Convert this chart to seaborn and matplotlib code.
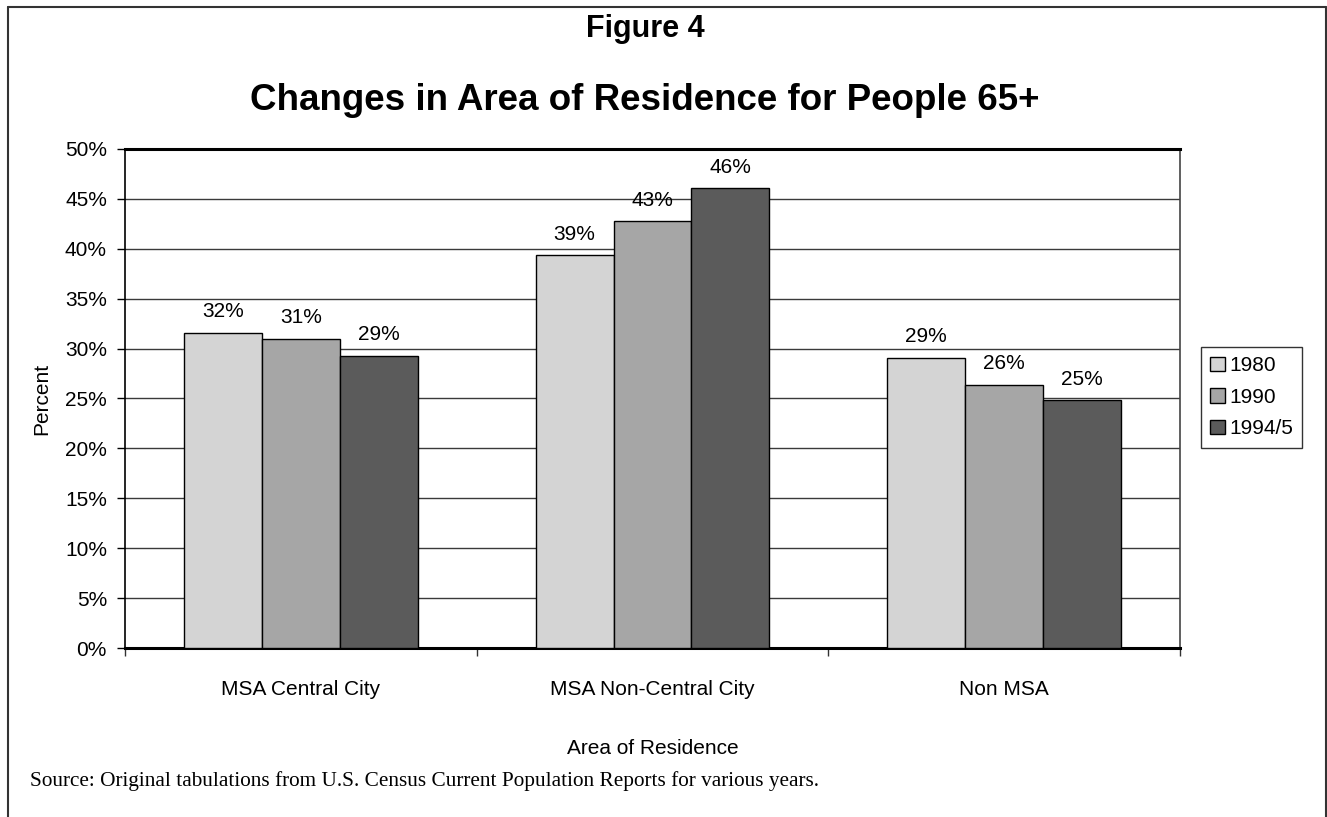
import matplotlib
matplotlib.use("Agg")
import matplotlib.pyplot as plt
from matplotlib.lines import Line2D
from matplotlib.patches import Patch
import seaborn as sns
import pandas as pd

# Share of people aged 65+ by area of residence (percent)
areas = ["MSA Central City", "MSA Non-Central City", "Non MSA"]
years = ["1980", "1990", "1994/5"]
pct_1980 = [31.6, 39.4, 29.1]
pct_1990 = [31.0, 42.8, 26.4]
pct_1994 = [29.3, 46.1, 24.8]
tick_labels = [f"{v}%" for v in range(0, 51, 5)]

colors = ["#d4d4d4", "#a6a6a6", "#5b5b5b"]

rows = []
for yr, vals in zip(years, [pct_1980, pct_1990, pct_1994]):
    for area, v in zip(areas, vals):
        rows.append({"Area": area, "Year": yr, "Percent": v})
df = pd.DataFrame(rows)

sns.set_theme(style="white")
plt.rcParams["font.family"] = ["Liberation Sans", "DejaVu Sans"]
plt.rcParams.update({"text.color": "black", "axes.labelcolor": "black",
                     "xtick.color": "black", "ytick.color": "black"})

W, H = 1327, 817
fig = plt.figure(figsize=(W / 100, H / 100), dpi=100)
ax = fig.add_axes([125 / W, 1 - 648 / H, (1180 - 125) / W, (648 - 149) / H])

sns.barplot(data=df, x="Area", y="Percent", hue="Year", order=areas,
            hue_order=years, palette=colors, width=0.665, gap=0,
            edgecolor="black", linewidth=1.0, saturation=1, legend=False,
            ax=ax, zorder=3)

# Value labels above each bar
for container in ax.containers:
    for bar in container:
        h = bar.get_height()
        ax.annotate(f"{h:.0f}%", (bar.get_x() + bar.get_width() / 2, h),
                    xytext=(0, 11), textcoords="offset points",
                    ha="center", va="baseline", fontsize=15, color="black",
                    zorder=5)

ax.set_xlim(-0.5, 2.5)
ax.set_ylim(0, 50)
ax.set_yticks(range(0, 51, 5))
ax.set_yticklabels(tick_labels, fontsize=15)
ax.yaxis.grid(True, color="#3a3a3a", linewidth=1.0, zorder=0)
ax.set_axisbelow(True)

# Category ticks between groups, labels centred under groups
ax.set_xticks(range(len(areas)))
ax.set_xticklabels(areas, fontsize=15)
ax.set_xticks([-0.5, 0.5, 1.5, 2.5], minor=True)
ax.tick_params(axis="x", which="major", length=0, pad=23)
ax.tick_params(axis="x", which="minor", length=6, width=1, color="#333333",
               direction="out", bottom=True)
ax.tick_params(axis="y", length=6, width=1, color="black", direction="out",
               left=True, pad=7)

for side in ["left", "right", "top", "bottom"]:
    ax.spines[side].set_visible(True)
ax.spines["left"].set_color("black")
ax.spines["left"].set_linewidth(1.2)
ax.spines["right"].set_color("#444444")
ax.spines["right"].set_linewidth(1.2)
ax.spines["top"].set_color("black")
ax.spines["top"].set_linewidth(2.2)
ax.spines["bottom"].set_color("black")
ax.spines["bottom"].set_linewidth(2.2)

ax.set_ylabel("Percent", fontsize=15)
ax.yaxis.set_label_coords(-(125 - 42) / (1180 - 125), 0.5)
ax.yaxis.label.set_va("center")
ax.set_xlabel("Area of Residence", fontsize=15)
ax.xaxis.set_label_coords(0.5, (648 - 748) / (648 - 149))
ax.xaxis.label.set_va("center")

# Legend
handles = [Patch(facecolor=c, edgecolor="black", linewidth=1.0, label=y)
           for c, y in zip(colors, years)]
leg = fig.legend(handles=handles, loc="upper left",
                 bbox_to_anchor=(1201 / W, 1 - 347 / H), fontsize=15,
                 frameon=True, fancybox=False, handlelength=0.7,
                 handleheight=0.7, handletextpad=0.2, labelspacing=0.6,
                 borderpad=0.45, borderaxespad=0)
leg.get_frame().set_edgecolor("black")
leg.get_frame().set_linewidth(1.0)

# Titles
fig.text(645 / W, 1 - 29 / H, "Figure 4", ha="center", va="center",
         fontsize=22, fontweight="bold")
fig.text(645 / W, 1 - 100 / H, "Changes in Area of Residence for People 65+",
         ha="center", va="center", fontsize=26.5, fontweight="bold")

# Source note
fig.text(30 / W, 1 - 781 / H,
         "Source: Original tabulations from U.S. Census Current Population Reports for various years.",
         ha="left", va="center", fontsize=15.3, family="Liberation Serif")

# Outer frame (open at the bottom)
frame_kw = dict(color="#333333", linewidth=1.5, transform=fig.transFigure)
fig.add_artist(Line2D([8 / W, 8 / W], [0, 1 - 7 / H], **frame_kw))
fig.add_artist(Line2D([8 / W, 1326 / W], [1 - 7 / H, 1 - 7 / H], **frame_kw))
fig.add_artist(Line2D([1326 / W, 1326 / W], [0, 1 - 7 / H], **frame_kw))

fig.savefig("out.png", dpi=100, facecolor="white")
